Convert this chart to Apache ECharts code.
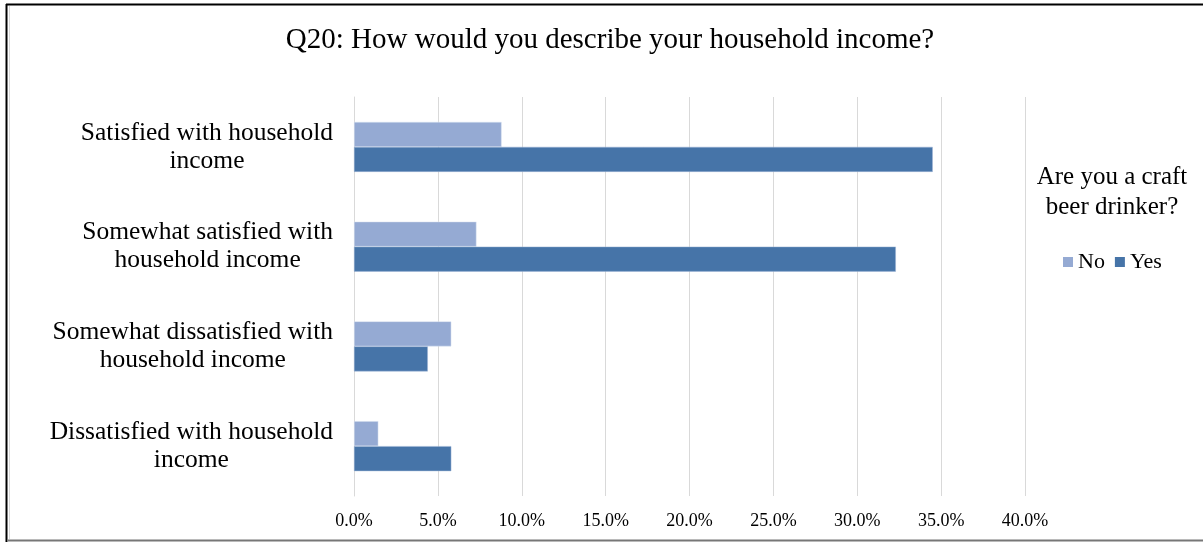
<!DOCTYPE html>
<html>
<head>
<meta charset="utf-8">
<script src="https://cdn.jsdelivr.net/npm/echarts@6/dist/echarts.min.js"></script>
<style>
html,body{margin:0;padding:0;background:#fff;}
#chart{width:1203px;height:542px;}
</style>
</head>
<body>
<div id="chart"></div>
<script>
var categories = [
  'Satisfied with household\nincome',
  'Somewhat satisfied with\nhousehold income',
  'Somewhat dissatisfied with\nhousehold income',
  'Dissatisfied with household\nincome'
];
var noValues = [8.8, 7.3, 5.8, 1.45];
var yesValues = [34.5, 32.3, 4.4, 5.8];
var seriesNames = ['No', 'Yes'];
var titleText = 'Q20: How would you describe your household income?';
var legendTitle = 'Are you a craft\nbeer drinker?';

var font = '"Liberation Serif", "Times New Roman", serif';
var chart = echarts.init(document.getElementById('chart'), null, {renderer: 'canvas'});
chart.setOption({
  animation: false,
  backgroundColor: '#fff',
  textStyle: {fontFamily: font},
  title: [
    {text: titleText, left: 605, textAlign: 'center', top: 21,
     textStyle: {fontFamily: font, fontSize: 29, fontWeight: 'normal', color: '#000'}},
    {text: legendTitle, left: 1107, textAlign: 'center', top: 157,
     textStyle: {fontFamily: font, fontSize: 25, fontWeight: 'normal', color: '#000', lineHeight: 30}}
  ],
  legend: {
    data: seriesNames, left: 1058, top: 246, itemWidth: 10, itemHeight: 10, itemGap: 10,
    icon: 'rect',
    itemStyle: {borderWidth: 0},
    textStyle: {fontFamily: font, fontSize: 22, color: '#000'}
  },
  grid: {left: 354, right: 178, top: 97, bottom: 46, containLabel: false},
  xAxis: {
    type: 'value', min: 0, max: 40, interval: 5,
    axisLine: {show: false}, axisTick: {show: false},
    splitLine: {lineStyle: {color: '#d9d9d9', width: 1}},
    axisLabel: {formatter: function(v){return v.toFixed(1) + '%';}, fontFamily: font, fontSize: 18, color: '#000', margin: 16}
  },
  yAxis: {
    type: 'category', data: categories, inverse: true,
    axisLine: {show: true, lineStyle: {color: '#d9d9d9'}}, axisTick: {show: false},
    axisLabel: {
      margin: 21, align: 'right', fontFamily: font, fontSize: 25.5, color: '#000', lineHeight: 28,
      formatter: function(v){ return v.split('\n').map(function(s){return '{c|' + s + '}';}).join('\n'); },
      rich: {c: {align: 'center', fontFamily: font, fontSize: 25.5, color: '#000', lineHeight: 28}}
    }
  },
  series: [
    {name: seriesNames[0], type: 'bar', data: noValues, barWidth: 25, barGap: '0%',
     itemStyle: {color: '#95aad3', borderColor: '#dfe6f2', borderWidth: 0.5}},
    {name: seriesNames[1], type: 'bar', data: yesValues, barWidth: 25, barGap: '0%',
     itemStyle: {color: '#4674a8', borderColor: '#9fb5d6', borderWidth: 0.5}}
  ],
  graphic: [
    {type: 'line', shape: {x1: 6, y1: 4.5, x2: 1203, y2: 4.5}, style: {stroke: '#000', lineWidth: 2}, silent: true},
    {type: 'line', shape: {x1: 6.5, y1: 4, x2: 6.5, y2: 542}, style: {stroke: '#000', lineWidth: 2}, silent: true},
    {type: 'line', shape: {x1: 9.5, y1: 6, x2: 9.5, y2: 539}, style: {stroke: '#d9d9d9', lineWidth: 1}, silent: true},
    {type: 'line', shape: {x1: 8, y1: 540.5, x2: 1203, y2: 540.5}, style: {stroke: '#777', lineWidth: 2}, silent: true}
  ]
});
</script>
</body>
</html>
